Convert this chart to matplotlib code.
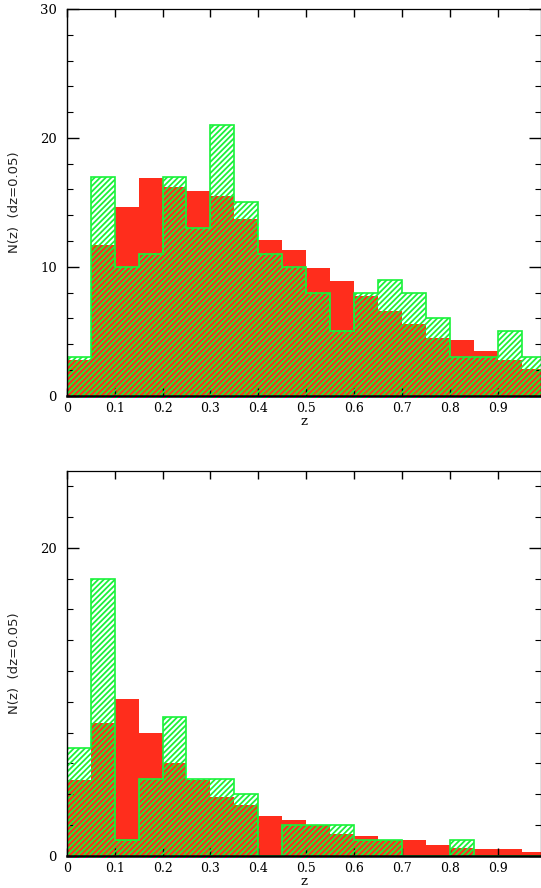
import numpy as np
import matplotlib
matplotlib.use("Agg")
import matplotlib.pyplot as plt
from matplotlib.ticker import MultipleLocator

# bin edges in z (dz = 0.05)
z_edges = np.linspace(0.0, 1.0, 21)

# upper panel
top_red = [2.8, 11.7, 14.6, 16.9, 16.2, 15.9, 15.5, 13.7, 12.1, 11.3,
           9.9, 8.9, 7.7, 6.6, 5.6, 4.5, 4.3, 3.5, 2.8, 2.1]
top_green = [3, 17, 10, 11, 17, 13, 21, 15, 11, 10,
             8, 5, 8, 9, 8, 6, 3, 3, 5, 3]

# lower panel
bot_red = [4.9, 8.6, 10.2, 8.0, 6.0, 4.9, 3.8, 3.3, 2.6, 2.3,
           2.0, 1.4, 1.3, 1.0, 1.0, 0.7, 0.5, 0.45, 0.45, 0.25]
bot_green = [7, 18, 1, 5, 9, 5, 5, 4, 0, 2,
             2, 2, 1, 1, 0, 0, 1, 0, 0, 0]

xtick_vals = [0, 0.1, 0.2, 0.3, 0.4, 0.5, 0.6, 0.7, 0.8, 0.9]
xtick_labels = ["0", "0.1", "0.2", "0.3", "0.4", "0.5", "0.6", "0.7", "0.8", "0.9"]

RED = "#ff2d1c"
GREEN = "#19f23a"

plt.rcParams["hatch.linewidth"] = 1.3

fig = plt.figure(figsize=(5.41, 8.88), dpi=100)
ax_top = fig.add_axes([0.1233, 0.5544, 0.8767, 0.4355])
ax_bot = fig.add_axes([0.1233, 0.0364, 0.8767, 0.4332])


def draw_panel(ax, red, green, ymax, ymajor):
    ax.stairs(red, z_edges, fill=True, color=RED, linewidth=0, zorder=1)
    ax.stairs(green, z_edges, fill=True, facecolor="none", edgecolor=GREEN,
              hatch="//////", linewidth=1.2, zorder=2)
    ax.set_xlim(0, 0.99)
    ax.set_ylim(0, ymax)
    ax.set_xticks(xtick_vals)
    ax.set_xticklabels(xtick_labels, fontfamily="DejaVu Serif", fontsize=9)
    ax.yaxis.set_major_locator(MultipleLocator(ymajor))
    ax.yaxis.set_minor_locator(MultipleLocator(2))
    for lab in ax.get_yticklabels():
        lab.set_fontfamily("DejaVu Serif")
        lab.set_fontsize(9.5)
    ax.tick_params(axis="x", which="major", direction="in", top=True, bottom=True,
                   length=6, width=1, pad=4.5)
    ax.tick_params(axis="y", which="major", direction="in", left=True, right=True,
                   length=8.5, width=1, pad=7)
    ax.tick_params(axis="y", which="minor", direction="in", left=True, right=True,
                   length=4.3, width=0.8)
    ax.spines["bottom"].set_linewidth(1.8)
    ax.spines["left"].set_linewidth(1.0)
    ax.spines["top"].set_linewidth(0.9)
    ax.spines["right"].set_linewidth(0.9)
    ax.set_xlabel("z", fontfamily="DejaVu Serif", fontsize=9.5, labelpad=0)
    ax.set_ylabel("N(z)  (dz=0.05)", fontfamily="DejaVu Sans", fontsize=9.5,
                  color="#222222", labelpad=14)


draw_panel(ax_top, top_red, top_green, 30, 10)
draw_panel(ax_bot, bot_red, bot_green, 25, 20)

fig.savefig("out.png", dpi=100)
